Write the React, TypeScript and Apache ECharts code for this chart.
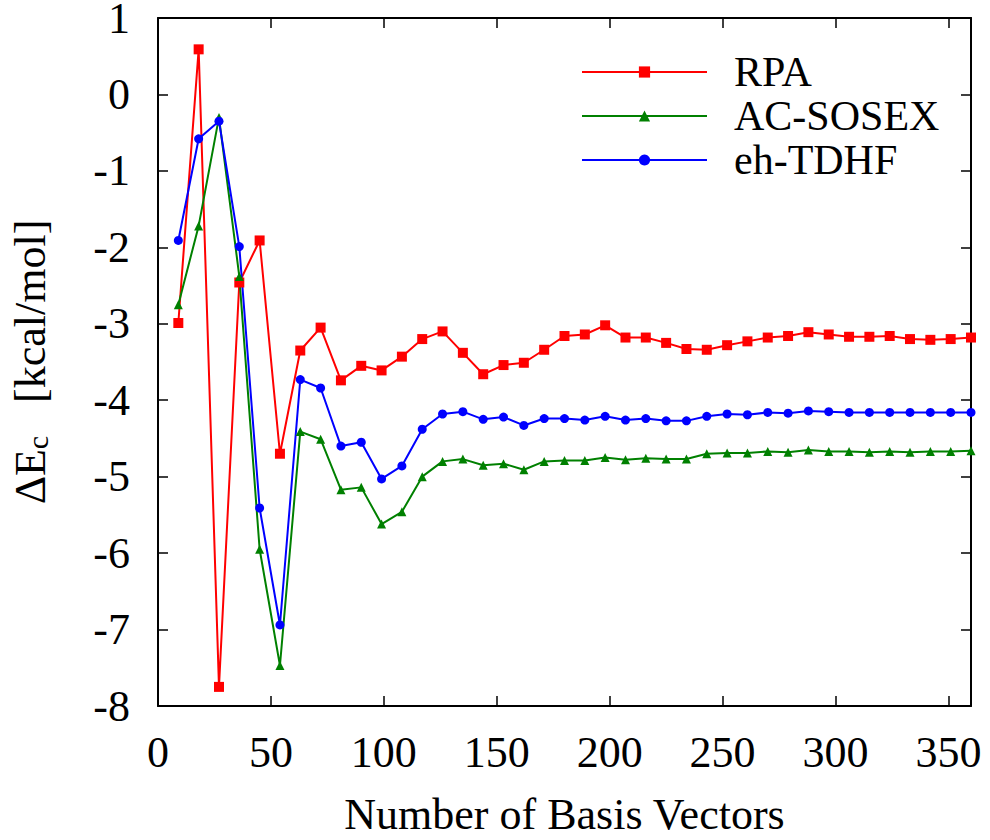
import React, { useEffect, useRef } from "react";
import * as echarts from "echarts";

const basisVectors = [9, 18, 27, 36, 45, 54, 63, 72, 81, 90, 99, 108, 117, 126, 135, 144, 153, 162, 171, 180, 189, 198, 207, 216, 225, 234, 243, 252, 261, 270, 279, 288, 297, 306, 315, 324, 333, 342, 351, 360];

const rpa = [-2.99, 0.59, -7.75, -2.46, -1.91, -4.70, -3.35, -3.05, -3.74, -3.55, -3.61, -3.43, -3.20, -3.10, -3.38, -3.66, -3.54, -3.51, -3.34, -3.16, -3.14, -3.02, -3.18, -3.18, -3.25, -3.33, -3.34, -3.28, -3.23, -3.18, -3.16, -3.11, -3.14, -3.17, -3.17, -3.16, -3.20, -3.21, -3.20, -3.18];

const acSosex = [-2.75, -1.72, -0.30, -2.38, -5.95, -7.47, -4.41, -4.51, -5.17, -5.14, -5.62, -5.46, -5.00, -4.80, -4.77, -4.85, -4.83, -4.91, -4.80, -4.79, -4.79, -4.75, -4.78, -4.76, -4.77, -4.77, -4.70, -4.69, -4.69, -4.67, -4.68, -4.65, -4.67, -4.67, -4.68, -4.67, -4.68, -4.67, -4.67, -4.66];

const ehTdhf = [-1.91, -0.58, -0.35, -1.99, -5.41, -6.94, -3.73, -3.84, -4.60, -4.55, -5.03, -4.86, -4.38, -4.18, -4.15, -4.25, -4.22, -4.33, -4.24, -4.24, -4.26, -4.21, -4.26, -4.24, -4.27, -4.27, -4.21, -4.18, -4.19, -4.16, -4.17, -4.14, -4.15, -4.16, -4.16, -4.16, -4.16, -4.16, -4.16, -4.16];

const seriesNames = ["RPA", "AC-SOSEX", "eh-TDHF"];
const xTitle = "Number of Basis Vectors";

const FONT = "Liberation Serif";
const FS = 44;

function pairs(ys: number[]) {
  return basisVectors.map((x, i) => [x, ys[i]]);
}

export default function App() {
  const ref = useRef<HTMLDivElement>(null);
  useEffect(() => {
    if (!ref.current) return;
    const chart = echarts.init(ref.current, null, { renderer: "svg" });
    const axisLine = { show: true, onZero: false, lineStyle: { color: "#000", width: 2 } };
    const tick = { show: true, inside: true, length: 10, lineStyle: { color: "#000", width: 1.5 } };
    const labelStyle = { color: "#000", fontFamily: FONT, fontSize: FS };
    chart.setOption({
      animation: false,
      backgroundColor: "#fff",
      textStyle: { fontFamily: FONT },
      grid: { left: 158, top: 18, right: 19, bottom: 134, containLabel: false, outerBoundsMode: "none" },
      legend: {
        orient: "vertical",
        left: 581,
        top: 50,
        padding: 0,
        itemGap: 0,
        itemWidth: 125,
        itemHeight: 14,
        data: seriesNames,
        textStyle: { color: "#000", fontFamily: FONT, fontSize: 42, lineHeight: 44, padding: [0, 0, 0, 22] },
      },
      xAxis: [
        {
          type: "value",
          min: 0,
          max: 360,
          interval: 50,
          position: "bottom",
          axisLine,
          axisTick: tick,
          splitLine: { show: false },
          axisLabel: { ...labelStyle, margin: 24, showMaxLabel: false, hideOverlap: false },
          name: xTitle,
          nameLocation: "middle",
          nameGap: 86,
          nameTextStyle: { color: "#000", fontFamily: FONT, fontSize: FS },
        },
        {
          type: "value",
          min: 0,
          max: 360,
          interval: 50,
          position: "top",
          axisLine,
          axisTick: tick,
          splitLine: { show: false },
          axisLabel: { show: false },
        },
      ],
      yAxis: [
        {
          type: "value",
          min: -8,
          max: 1,
          interval: 1,
          position: "left",
          axisLine,
          axisTick: tick,
          splitLine: { show: false },
          axisLabel: { ...labelStyle, margin: 28, lineHeight: 30, hideOverlap: false },
          name: "{a|ΔE}{s|c}{a|   [kcal/mol]}",
          nameLocation: "middle",
          nameRotate: 90,
          nameGap: 106,
          nameTextStyle: {
            color: "#000",
            fontFamily: FONT,
            fontSize: FS,
            rich: {
              a: { fontFamily: FONT, fontSize: FS, lineHeight: 44, color: "#000" },
              s: { fontFamily: FONT, fontSize: 30, lineHeight: 30, color: "#000", verticalAlign: "bottom", padding: [12, 0, 0, 0] },
            },
          },
        },
        {
          type: "value",
          min: -8,
          max: 1,
          interval: 1,
          position: "right",
          axisLine,
          axisTick: tick,
          splitLine: { show: false },
          axisLabel: { show: false },
        },
      ],
      series: [
        {
          name: seriesNames[0],
          type: "line",
          xAxisIndex: 0,
          yAxisIndex: 0,
          data: pairs(rpa),
          symbol: "rect",
          symbolSize: 10,
          color: "#ff0000",
          lineStyle: { color: "#ff0000", width: 2 },
          itemStyle: { color: "#ff0000" },
        },
        {
          name: seriesNames[1],
          type: "line",
          xAxisIndex: 0,
          yAxisIndex: 0,
          data: pairs(acSosex),
          symbol: "triangle",
          symbolSize: 9,
          color: "#008000",
          lineStyle: { color: "#008000", width: 2 },
          itemStyle: { color: "#008000" },
        },
        {
          name: seriesNames[2],
          type: "line",
          xAxisIndex: 0,
          yAxisIndex: 0,
          data: pairs(ehTdhf),
          symbol: "circle",
          symbolSize: 9,
          color: "#0000ff",
          lineStyle: { color: "#0000ff", width: 2 },
          itemStyle: { color: "#0000ff" },
        },
      ],
    });
    return () => chart.dispose();
  }, []);
  return (
    <div
      ref={ref}
      style={{ position: "fixed", left: 0, top: 0, width: 990, height: 840, background: "#fff" }}
    />
  );
}
